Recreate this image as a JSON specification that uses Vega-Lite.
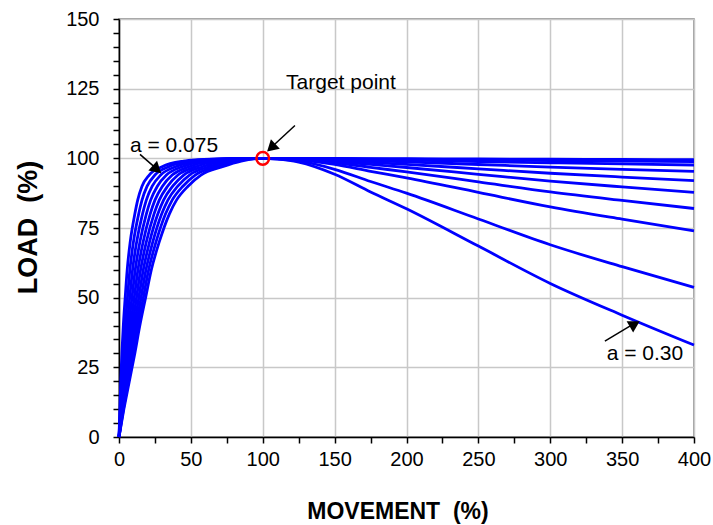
{
  "$schema": "https://vega.github.io/schema/vega-lite/v6.json",
  "width": 575,
  "height": 418,
  "autosize": {"type": "none"},
  "padding": {"left": 119, "top": 19, "right": 19, "bottom": 88},
  "config": {"view": {"stroke": "#808080", "strokeWidth": 1.5}, "font": "Liberation Sans"},
  "datasets": {
    "curves": [
      {"curve":"k0","x":0,"y":0},{"curve":"k0","x":0.6,"y":10},{"curve":"k0","x":1.2,"y":20},{"curve":"k0","x":2,"y":30},{"curve":"k0","x":3,"y":40},{"curve":"k0","x":4.3,"y":50},{"curve":"k0","x":5.7,"y":60},{"curve":"k0","x":7.8,"y":70},{"curve":"k0","x":11,"y":80},{"curve":"k0","x":13,"y":85},{"curve":"k0","x":16,"y":90},{"curve":"k0","x":21,"y":94},{"curve":"k0","x":30,"y":97},{"curve":"k0","x":45,"y":99},{"curve":"k0","x":55,"y":99.5},{"curve":"k0","x":75,"y":99.9},{"curve":"k0","x":100,"y":100},{"curve":"k0","x":110,"y":100},{"curve":"k0","x":125,"y":99.99},{"curve":"k0","x":150,"y":99.96},{"curve":"k0","x":175,"y":99.91},{"curve":"k0","x":200,"y":99.87},{"curve":"k0","x":250,"y":99.77},{"curve":"k0","x":300,"y":99.67},{"curve":"k0","x":350,"y":99.58},{"curve":"k0","x":400,"y":99.5},
      {"curve":"k1","x":0,"y":0},{"curve":"k1","x":0.91,"y":10},{"curve":"k1","x":1.87,"y":20},{"curve":"k1","x":3,"y":30},{"curve":"k1","x":4.28,"y":40},{"curve":"k1","x":5.88,"y":50},{"curve":"k1","x":7.57,"y":60},{"curve":"k1","x":10.04,"y":70},{"curve":"k1","x":13.67,"y":80},{"curve":"k1","x":16,"y":85},{"curve":"k1","x":19.56,"y":90},{"curve":"k1","x":25,"y":94},{"curve":"k1","x":34.67,"y":97},{"curve":"k1","x":49.44,"y":99},{"curve":"k1","x":58.89,"y":99.5},{"curve":"k1","x":77.33,"y":99.9},{"curve":"k1","x":100,"y":100},{"curve":"k1","x":110,"y":100},{"curve":"k1","x":125,"y":99.98},{"curve":"k1","x":150,"y":99.9},{"curve":"k1","x":175,"y":99.78},{"curve":"k1","x":200,"y":99.68},{"curve":"k1","x":250,"y":99.44},{"curve":"k1","x":300,"y":99.2},{"curve":"k1","x":350,"y":98.99},{"curve":"k1","x":400,"y":98.8},
      {"curve":"k2","x":0,"y":0},{"curve":"k2","x":1.22,"y":10},{"curve":"k2","x":2.53,"y":20},{"curve":"k2","x":4,"y":30},{"curve":"k2","x":5.56,"y":40},{"curve":"k2","x":7.46,"y":50},{"curve":"k2","x":9.43,"y":60},{"curve":"k2","x":12.29,"y":70},{"curve":"k2","x":16.33,"y":80},{"curve":"k2","x":19,"y":85},{"curve":"k2","x":23.11,"y":90},{"curve":"k2","x":29,"y":94},{"curve":"k2","x":39.33,"y":97},{"curve":"k2","x":53.89,"y":99},{"curve":"k2","x":62.78,"y":99.5},{"curve":"k2","x":79.67,"y":99.9},{"curve":"k2","x":100,"y":100},{"curve":"k2","x":110,"y":99.99},{"curve":"k2","x":125,"y":99.95},{"curve":"k2","x":150,"y":99.8},{"curve":"k2","x":175,"y":99.57},{"curve":"k2","x":200,"y":99.35},{"curve":"k2","x":250,"y":98.87},{"curve":"k2","x":300,"y":98.39},{"curve":"k2","x":350,"y":97.98},{"curve":"k2","x":400,"y":97.6},
      {"curve":"k3","x":0,"y":0},{"curve":"k3","x":1.53,"y":10},{"curve":"k3","x":3.2,"y":20},{"curve":"k3","x":5,"y":30},{"curve":"k3","x":6.83,"y":40},{"curve":"k3","x":9.03,"y":50},{"curve":"k3","x":11.3,"y":60},{"curve":"k3","x":14.53,"y":70},{"curve":"k3","x":19,"y":80},{"curve":"k3","x":22,"y":85},{"curve":"k3","x":26.67,"y":90},{"curve":"k3","x":33,"y":94},{"curve":"k3","x":44,"y":97},{"curve":"k3","x":58.33,"y":99},{"curve":"k3","x":66.67,"y":99.5},{"curve":"k3","x":82,"y":99.9},{"curve":"k3","x":100,"y":100},{"curve":"k3","x":110,"y":99.98},{"curve":"k3","x":125,"y":99.91},{"curve":"k3","x":150,"y":99.6},{"curve":"k3","x":175,"y":99.15},{"curve":"k3","x":200,"y":98.73},{"curve":"k3","x":250,"y":97.79},{"curve":"k3","x":300,"y":96.85},{"curve":"k3","x":350,"y":96.05},{"curve":"k3","x":400,"y":95.3},
      {"curve":"k4","x":0,"y":0},{"curve":"k4","x":1.84,"y":10},{"curve":"k4","x":3.87,"y":20},{"curve":"k4","x":6,"y":30},{"curve":"k4","x":8.11,"y":40},{"curve":"k4","x":10.61,"y":50},{"curve":"k4","x":13.17,"y":60},{"curve":"k4","x":16.78,"y":70},{"curve":"k4","x":21.67,"y":80},{"curve":"k4","x":25,"y":85},{"curve":"k4","x":30.22,"y":90},{"curve":"k4","x":37,"y":94},{"curve":"k4","x":48.67,"y":97},{"curve":"k4","x":62.78,"y":99},{"curve":"k4","x":70.56,"y":99.5},{"curve":"k4","x":84.33,"y":99.9},{"curve":"k4","x":100,"y":100},{"curve":"k4","x":110,"y":99.97},{"curve":"k4","x":125,"y":99.84},{"curve":"k4","x":150,"y":99.32},{"curve":"k4","x":175,"y":98.56},{"curve":"k4","x":200,"y":97.84},{"curve":"k4","x":250,"y":96.24},{"curve":"k4","x":300,"y":94.64},{"curve":"k4","x":350,"y":93.28},{"curve":"k4","x":400,"y":92},
      {"curve":"k5","x":0,"y":0},{"curve":"k5","x":2.16,"y":10},{"curve":"k5","x":4.53,"y":20},{"curve":"k5","x":7,"y":30},{"curve":"k5","x":9.39,"y":40},{"curve":"k5","x":12.19,"y":50},{"curve":"k5","x":15.03,"y":60},{"curve":"k5","x":19.02,"y":70},{"curve":"k5","x":24.33,"y":80},{"curve":"k5","x":28,"y":85},{"curve":"k5","x":33.78,"y":90},{"curve":"k5","x":41,"y":94},{"curve":"k5","x":53.33,"y":97},{"curve":"k5","x":67.22,"y":99},{"curve":"k5","x":74.44,"y":99.5},{"curve":"k5","x":86.67,"y":99.9},{"curve":"k5","x":100,"y":100},{"curve":"k5","x":110,"y":99.95},{"curve":"k5","x":125,"y":99.76},{"curve":"k5","x":150,"y":98.96},{"curve":"k5","x":175,"y":97.8},{"curve":"k5","x":200,"y":96.71},{"curve":"k5","x":250,"y":94.27},{"curve":"k5","x":300,"y":91.83},{"curve":"k5","x":350,"y":89.75},{"curve":"k5","x":400,"y":87.8},
      {"curve":"k6","x":0,"y":0},{"curve":"k6","x":2.47,"y":10},{"curve":"k6","x":5.2,"y":20},{"curve":"k6","x":8,"y":30},{"curve":"k6","x":10.67,"y":40},{"curve":"k6","x":13.77,"y":50},{"curve":"k6","x":16.9,"y":60},{"curve":"k6","x":21.27,"y":70},{"curve":"k6","x":27,"y":80},{"curve":"k6","x":31,"y":85},{"curve":"k6","x":37.33,"y":90},{"curve":"k6","x":45,"y":94},{"curve":"k6","x":58,"y":97},{"curve":"k6","x":71.67,"y":99},{"curve":"k6","x":78.33,"y":99.5},{"curve":"k6","x":89,"y":99.9},{"curve":"k6","x":100,"y":100},{"curve":"k6","x":110,"y":99.93},{"curve":"k6","x":125,"y":99.64},{"curve":"k6","x":150,"y":98.47},{"curve":"k6","x":175,"y":96.76},{"curve":"k6","x":200,"y":95.14},{"curve":"k6","x":250,"y":91.54},{"curve":"k6","x":300,"y":87.94},{"curve":"k6","x":350,"y":84.88},{"curve":"k6","x":400,"y":82},
      {"curve":"k7","x":0,"y":0},{"curve":"k7","x":2.78,"y":10},{"curve":"k7","x":5.87,"y":20},{"curve":"k7","x":9,"y":30},{"curve":"k7","x":11.94,"y":40},{"curve":"k7","x":15.34,"y":50},{"curve":"k7","x":18.77,"y":60},{"curve":"k7","x":23.51,"y":70},{"curve":"k7","x":29.67,"y":80},{"curve":"k7","x":34,"y":85},{"curve":"k7","x":40.89,"y":90},{"curve":"k7","x":49,"y":94},{"curve":"k7","x":62.67,"y":97},{"curve":"k7","x":76.11,"y":99},{"curve":"k7","x":82.22,"y":99.5},{"curve":"k7","x":91.33,"y":99.9},{"curve":"k7","x":100,"y":100},{"curve":"k7","x":110,"y":99.9},{"curve":"k7","x":125,"y":99.48},{"curve":"k7","x":150,"y":97.79},{"curve":"k7","x":175,"y":95.32},{"curve":"k7","x":200,"y":92.98},{"curve":"k7","x":250,"y":87.78},{"curve":"k7","x":300,"y":82.58},{"curve":"k7","x":350,"y":78.16},{"curve":"k7","x":400,"y":74},
      {"curve":"k8","x":0,"y":0},{"curve":"k8","x":3.09,"y":10},{"curve":"k8","x":6.53,"y":20},{"curve":"k8","x":10,"y":30},{"curve":"k8","x":13.22,"y":40},{"curve":"k8","x":16.92,"y":50},{"curve":"k8","x":20.63,"y":60},{"curve":"k8","x":25.76,"y":70},{"curve":"k8","x":32.33,"y":80},{"curve":"k8","x":37,"y":85},{"curve":"k8","x":44.44,"y":90},{"curve":"k8","x":53,"y":94},{"curve":"k8","x":67.33,"y":97},{"curve":"k8","x":80.56,"y":99},{"curve":"k8","x":86.11,"y":99.5},{"curve":"k8","x":93.67,"y":99.9},{"curve":"k8","x":100,"y":100},{"curve":"k8","x":110,"y":99.81},{"curve":"k8","x":125,"y":99.07},{"curve":"k8","x":150,"y":96.06},{"curve":"k8","x":175,"y":91.67},{"curve":"k8","x":200,"y":87.5},{"curve":"k8","x":250,"y":78.24},{"curve":"k8","x":300,"y":68.98},{"curve":"k8","x":350,"y":61.11},{"curve":"k8","x":400,"y":53.7},
      {"curve":"k9","x":0,"y":0},{"curve":"k9","x":3.4,"y":10},{"curve":"k9","x":7.2,"y":20},{"curve":"k9","x":11,"y":30},{"curve":"k9","x":14.5,"y":40},{"curve":"k9","x":18.5,"y":50},{"curve":"k9","x":22.5,"y":60},{"curve":"k9","x":28,"y":70},{"curve":"k9","x":35,"y":80},{"curve":"k9","x":40,"y":85},{"curve":"k9","x":48,"y":90},{"curve":"k9","x":57,"y":94},{"curve":"k9","x":72,"y":97},{"curve":"k9","x":85,"y":99},{"curve":"k9","x":90,"y":99.5},{"curve":"k9","x":96,"y":99.9},{"curve":"k9","x":100,"y":100},{"curve":"k9","x":110,"y":99.73},{"curve":"k9","x":125,"y":98.66},{"curve":"k9","x":150,"y":94.3},{"curve":"k9","x":175,"y":87.94},{"curve":"k9","x":200,"y":81.91},{"curve":"k9","x":250,"y":68.51},{"curve":"k9","x":300,"y":55.11},{"curve":"k9","x":350,"y":43.72},{"curve":"k9","x":400,"y":33}
    ],
    "arrows": [
      {"x":122.4,"y":111.8,"x2":105.5,"y2":103.7},
      {"x":14.6,"y":101.4,"x2":26,"y2":96.3},
      {"x":338,"y":34.4,"x2":358,"y2":40.6}
    ],
    "labels": [
      {"x":154.4,"y":126.9,"text":"Target point"},
      {"x":38.3,"y":104.3,"text":"a = 0.075"},
      {"x":365.9,"y":29.9,"text":"a = 0.30"}
    ]
  },
  "encoding": {
    "x": {"field": "x", "type": "quantitative",
      "scale": {"domain": [0, 400], "nice": false, "zero": false},
      "axis": {
        "values": [0,25,50,75,100,125,150,175,200,225,250,275,300,325,350,375,400],
        "labelExpr": "datum.value % 50 == 0 ? datum.label : ''",
        "labelFlush": false, "labelOverlap": false,
        "grid": true, "gridColor": "#c8c8c8", "gridWidth": 1.5,
        "gridOpacity": {"condition": {"test": "datum.value % 50 != 0", "value": 0}, "value": 1},
        "domainColor": "#000000", "domainWidth": 1.5,
        "tickColor": "#000000", "tickWidth": 1.5, "tickSize": 6,
        "labelFontSize": 20, "labelColor": "#000000", "labelPadding": 6,
        "title": "MOVEMENT\u00a0 (%)", "titleFontSize": 23, "titleFontWeight": "bold", "titleColor": "#000000",
        "titleX": 278.5, "titleY": 74, "titleBaseline": "middle", "titleAlign": "center"
      }
    },
    "y": {"field": "y", "type": "quantitative",
      "scale": {"domain": [0, 150], "nice": false, "zero": false},
      "axis": {
        "values": [0,5,10,15,20,25,30,35,40,45,50,55,60,65,70,75,80,85,90,95,100,105,110,115,120,125,130,135,140,145,150],
        "labelExpr": "datum.value % 25 == 0 ? datum.label : ''",
        "labelOverlap": false, "labelFlush": false,
        "grid": true, "gridColor": "#c8c8c8", "gridWidth": 1.5,
        "gridOpacity": {"condition": {"test": "datum.value % 25 != 0", "value": 0}, "value": 1},
        "domainColor": "#000000", "domainWidth": 1.5,
        "tickColor": "#000000", "tickWidth": 1.5, "tickSize": 6,
        "labelFontSize": 20, "labelColor": "#000000", "labelPadding": 14,
        "title": "LOAD\u00a0 (%)", "titleFontSize": 27, "titleFontWeight": "bold", "titleColor": "#000000",
        "titleX": -91, "titleY": 208, "titleBaseline": "middle", "titleAlign": "center"
      }
    }
  },
  "layer": [
    {
      "data": {"name": "curves"},
      "mark": {"type": "line", "color": "#0000ff", "strokeWidth": 2.8, "interpolate": "monotone"},
      "encoding": {"detail": {"field": "curve"}}
    },
    {
      "data": {"values": [{"x": 100, "y": 100}]},
      "mark": {"type": "point", "shape": "circle", "filled": false, "stroke": "#ff0000", "strokeWidth": 2.5, "size": 160, "opacity": 1},
      "encoding": {}
    },
    {
      "data": {"name": "arrows"},
      "mark": {"type": "rule", "color": "#000000", "strokeWidth": 1.5},
      "encoding": {"x2": {"field": "x2"}, "y2": {"field": "y2"}}
    },
    {
      "data": {"values": [{"x": 105.9, "y": 103.8}]},
      "mark": {"type": "point", "shape": "triangle-up", "filled": true, "color": "#000000", "size": 170, "angle": 227, "opacity": 1},
      "encoding": {}
    },
    {
      "data": {"values": [{"x": 26.4, "y": 96.0}]},
      "mark": {"type": "point", "shape": "triangle-up", "filled": true, "color": "#000000", "size": 170, "angle": 131.5, "opacity": 1},
      "encoding": {}
    },
    {
      "data": {"values": [{"x": 358.8, "y": 40.5}]},
      "mark": {"type": "point", "shape": "triangle-up", "filled": true, "color": "#000000", "size": 170, "angle": 60, "opacity": 1},
      "encoding": {}
    },
    {
      "data": {"name": "labels"},
      "mark": {"type": "text", "fontSize": 21, "color": "#000000", "align": "center", "baseline": "middle"},
      "encoding": {"text": {"field": "text"}}
    }
  ]
}
